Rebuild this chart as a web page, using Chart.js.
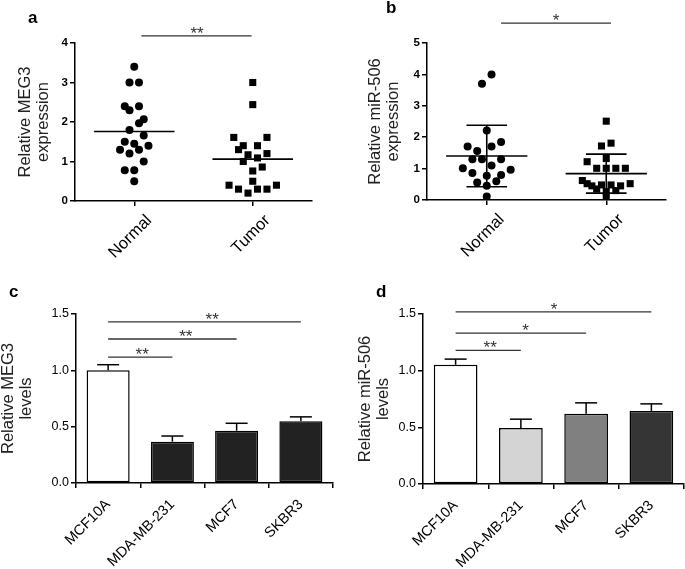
<!DOCTYPE html>
<html>
<head>
<meta charset="utf-8">
<title>MEG3 / miR-506</title>
<script src="https://cdn.jsdelivr.net/npm/chart.js@4.4.1/dist/chart.umd.min.js"></script>
<style>
    body { margin: 0; background: #fff; }
    #fig { position: relative; width: 685px; height: 569px; overflow: hidden; background: #fff; }
    #fig canvas { position: absolute; }
    .panel-label { position: absolute; font: bold 17px "Liberation Sans", Arial, sans-serif; line-height: 17px; color: #000; }
</style>
</head>
<body>
<div id="fig">
    <canvas id="chartA" width="340" height="290" style="left:0;top:0"></canvas>
    <canvas id="chartB" width="345" height="290" style="left:340px;top:0"></canvas>
    <canvas id="chartC" width="340" height="279" style="left:0;top:290px"></canvas>
    <canvas id="chartD" width="345" height="279" style="left:340px;top:290px"></canvas>
    <div class="panel-label" style="left:28px;top:9px">a</div>
    <div class="panel-label" style="left:386px;top:-1px">b</div>
    <div class="panel-label" style="left:9px;top:283px">c</div>
    <div class="panel-label" style="left:376px;top:283px">d</div>
</div>

<script>
// DATA
const groups = ["Normal", "Tumor"];
const cellLines = ["MCF10A", "MDA-MB-231", "MCF7", "SKBR3"];
const JITTER = 0.04;   // one horizontal jitter step, in group units

// panel a : MEG3 in tissues
const megNormal       = [3.4, 3.0, 3.0, 2.4, 2.4, 2.3, 2.07, 1.97, 1.8, 1.66, 1.5, 1.45, 1.4, 1.3, 1.2, 1.3, 1.0, 0.78, 0.78, 0.5];
const megNormalJitter = [0, -1, 1, -2, 1, -1, 2, 1, -1, 2, -2, 0, 3, -3, -1, 1, 2, -2, 0, 0];
const megTumor        = [3.0, 2.44, 1.61, 1.61, 1.4, 1.4, 1.3, 1.17, 1.2, 1.0, 1.09, 0.86, 0.76, 0.5, 0.4, 0.3, 0.2, 0.3, 0.3, 0.4];
const megTumorJitter  = [0, 0, -4, 3, -2, 1, -3, -1, 3, -2, 1, 2, 0, 0, -5, -3, -1, 1, 3, 5];
const megMean = [1.76, 1.06];

// panel b : miR-506 in tissues
const mirNormal       = [4.0, 3.7, 2.21, 1.70, 1.56, 1.70, 1.85, 1.30, 1.30, 1.30, 1.01, 1.10, 0.96, 0.86, 0.77, 0.80, 0.56, 0.60, 0.45, 0.11];
const mirNormalJitter = [1, -1, 0, -4, -2, 1, 3, -3, -1, 3, -5, 1, 5, -3, 0, 3, -2, 2, 0, 0];
const mirTumor        = [2.51, 1.72, 1.81, 1.32, 1.22, 1.01, 1.01, 1.01, 1.01, 0.62, 0.52, 0.45, 0.48, 0.48, 0.45, 0.52, 0.35, 0.27, 0.30, 0.11];
const mirTumorJitter  = [0, -1, 1, 0, -4, -2, 0, 2, 4, -5, -4, -3, -1, 1, 3, 5, -2, 0, 2, 0];
const mirMean = [1.40, 0.84];
const mirSd   = [0.98, 0.62];

// panel c : MEG3 in cell lines
const megLevels = [1.0, 0.367, 0.464, 0.547];
const megSem    = [0.05, 0.05, 0.066, 0.04];

// panel d : miR-506 in cell lines
const mirLevels = [1.052, 0.495, 0.619, 0.645];
const mirSem    = [0.05, 0.077, 0.097, 0.062];

// y ticks
const tissueTicksA = [0, 1, 2, 3, 4];
const tissueTicksB = [0, 1, 2, 3, 4, 5];
const cellTicks = [0, 0.5, 1.0, 1.5];

// significance brackets : from, to, height, label, label position
const bracketsA = [{ from: 1.06, to: 1.99, y: 4.18, text: "**", at: 1.53 }];
const bracketsB = [{ from: 1.12, to: 2.04, y: 5.63, text: "*", at: 1.58 }];
const bracketsC = [
    { from: 0, to: 3, y: 1.43, text: "**", at: 1.62 },
    { from: 0, to: 2, y: 1.278, text: "**", at: 1.21 },
    { from: 0, to: 1, y: 1.118, text: "**", at: 0.53 }
];
const bracketsD = [
    { from: 0, to: 3, y: 1.518, text: "*", at: 1.51 },
    { from: 0, to: 2, y: 1.332, text: "*", at: 1.07 },
    { from: 0, to: 1, y: 1.179, text: "**", at: 0.53 }
];

const FONT = '"Liberation Sans", Arial, Helvetica, sans-serif';
Chart.defaults.font.family = FONT;
Chart.defaults.color = '#000';
Chart.defaults.animation = false;
Chart.defaults.plugins.legend.display = false;
Chart.defaults.plugins.tooltip.enabled = false;


// MEANS, SD, ERROR BARS AND BRACKETS
function seg(ctx, x1, y1, x2, y2) {
    ctx.beginPath();
    ctx.moveTo(x1, y1);
    ctx.lineTo(x2, y2);
    ctx.stroke();
}

const panelMarks = {
    id: 'panelMarks',
    afterDatasetsDraw(chart, args, opts) {
        const ctx = chart.ctx;
        const xs = chart.scales.x;
        const ys = chart.scales.y;
        ctx.save();
        ctx.strokeStyle = '#000';
        ctx.lineWidth = 1.6;

        (opts.means || []).forEach(function (m, i) {
            const g = i + 1;
            const y = ys.getPixelForValue(m);
            seg(ctx, xs.getPixelForValue(g - 0.34), y, xs.getPixelForValue(g + 0.34), y);
            if (opts.sds) {
                const px = xs.getPixelForValue(g);
                const top = ys.getPixelForValue(m + opts.sds[i]);
                const bot = ys.getPixelForValue(m - opts.sds[i]);
                const c0 = xs.getPixelForValue(g - 0.17);
                const c1 = xs.getPixelForValue(g + 0.17);
                seg(ctx, px, top, px, bot);
                seg(ctx, c0, top, c1, top);
                seg(ctx, c0, bot, c1, bot);
            }
        });

        if (opts.errors) {
            ctx.lineWidth = 1.5;
            chart.getDatasetMeta(0).data.forEach(function (bar, i) {
                const v = chart.data.datasets[0].data[i];
                const top = ys.getPixelForValue(v + opts.errors[i]);
                seg(ctx, bar.x, bar.y, bar.x, top);
                seg(ctx, bar.x - 11, top, bar.x + 11, top);
            });
        }

        ctx.strokeStyle = '#333';
        ctx.fillStyle = '#333';
        ctx.lineWidth = 1.3;
        ctx.font = '17px ' + FONT;
        ctx.textAlign = 'center';
        ctx.textBaseline = 'alphabetic';
        (opts.brackets || []).forEach(function (b) {
            const y = ys.getPixelForValue(b.y);
            seg(ctx, xs.getPixelForValue(b.from), y, xs.getPixelForValue(b.to), y);
            ctx.fillText(b.text, xs.getPixelForValue(b.at), y + 3);
        });
        ctx.restore();
    }
};


// SHARED AXIS SETTINGS
function axisGrid() {
    return { drawOnChartArea: false, drawTicks: true, tickLength: 5, color: '#000', lineWidth: 1.5 };
}

function yAxis(max, ticks, title, width, titlePad, bold) {
    return {
        min: 0,
        max: max,
        afterBuildTicks: function (s) { s.ticks = ticks.map(function (v) { return { value: v }; }); },
        ticks: {
            color: '#000',
            padding: 2,
            font: { size: bold ? 11.5 : 12.5, weight: bold ? 'bold' : 'normal' },
            callback: function (v) { return bold ? String(v) : v.toFixed(1); }
        },
        grid: axisGrid(),
        border: { display: true, color: '#000', width: 1.5 },
        title: { display: true, text: title, color: '#222', font: { size: 16.5, lineHeight: 1.12 }, padding: { top: titlePad, bottom: 0 } },
        afterFit: function (s) { s.width = width; }
    };
}

function dotChart(id, normal, normalJitter, tumor, tumorJitter, yMax, yTicks, title, marks, box) {
    let ctx = document.getElementById(id).getContext('2d');
    return new Chart(ctx, {
        type: 'scatter',
        data: {
            datasets: [{
                data: normal.map(function (v, i) { return { x: 1 + normalJitter[i] * JITTER, y: v }; }),
                pointStyle: 'circle',
                pointRadius: 4,
                backgroundColor: '#000',
                borderColor: '#000',
                borderWidth: 0
            }, {
                data: tumor.map(function (v, i) { return { x: 2 + tumorJitter[i] * JITTER, y: v }; }),
                pointStyle: 'rect',
                pointRadius: 5,
                backgroundColor: '#000',
                borderColor: '#000',
                borderWidth: 0
            }]
        },
        options: {
            responsive: false,
            layout: { padding: { top: box.top, right: box.right, bottom: 0, left: 0 } },
            scales: {
                x: {
                    type: 'linear',
                    min: 0.5,
                    max: 2.5,
                    afterBuildTicks: function (s) { s.ticks = groups.map(function (g, i) { return { value: i + 1 }; }); },
                    ticks: {
                        color: '#000',
                        autoSkip: false,
                        minRotation: 45,
                        maxRotation: 45,
                        padding: 5,
                        labelOffset: 15,
                        font: { size: 16.5 },
                        callback: function (v) { return groups[v - 1]; }
                    },
                    grid: axisGrid(),
                    border: { display: true, color: '#000', width: 1.5 },
                    afterFit: function (s) { s.height = box.xh; }
                },
                y: yAxis(yMax, yTicks, title, box.yw, box.tp, true)
            },
            plugins: { panelMarks: marks }
        },
        plugins: [panelMarks]
    });
}

function barChart(id, values, errors, colors, title, brackets, box) {
    let ctx = document.getElementById(id).getContext('2d');
    return new Chart(ctx, {
        type: 'bar',
        data: {
            labels: cellLines,
            datasets: [{
                data: values,
                backgroundColor: colors,
                borderColor: '#000',
                borderWidth: 1.5,
                borderSkipped: false,
                barPercentage: 0.67,
                categoryPercentage: 1.0
            }]
        },
        options: {
            responsive: false,
            layout: { padding: { top: box.top, right: box.right, bottom: 0, left: 0 } },
            scales: {
                x: {
                    ticks: {
                        color: '#000',
                        autoSkip: false,
                        minRotation: 45,
                        maxRotation: 45,
                        padding: 8,
                        font: { size: 14.5 }
                    },
                    grid: axisGrid(),
                    border: { display: true, color: '#000', width: 1.5 },
                    afterFit: function (s) { s.height = box.xh; }
                },
                y: yAxis(1.5, cellTicks, title, box.yw, box.tp, false)
            },
            plugins: { panelMarks: { errors: errors, brackets: brackets } }
        },
        plugins: [panelMarks]
    });
}


// CHART.JS GRAPHICS
let chartA = dotChart('chartA', megNormal, megNormalJitter, megTumor, megTumorJitter, 4, tissueTicksA,
    ['Relative MEG3', 'expression'],
    { means: megMean, brackets: bracketsA },
    { top: 43, right: 28, xh: 89, yw: 75, tp: 16 });

let chartB = dotChart('chartB', mirNormal, mirNormalJitter, mirTumor, mirTumorJitter, 5, tissueTicksB,
    ['Relative miR-506', 'expression'],
    { means: mirMean, sds: mirSd, brackets: bracketsB },
    { top: 43, right: 19, xh: 90, yw: 87, tp: 26 });

let chartC = barChart('chartC', megLevels, megSem, ['#fff', '#222', '#222', '#222'],
    ['Relative MEG3', 'levels'], bracketsC,
    { top: 24, right: 7, xh: 86, yw: 76, tp: -1 });

let chartD = barChart('chartD', mirLevels, mirSem, ['#fff', '#d4d4d4', '#808080', '#353535'],
    ['Relative miR-506', 'levels'], bracketsD,
    { top: 24, right: 1, xh: 85, yw: 83, tp: 16 });
</script>
</body>
</html>
